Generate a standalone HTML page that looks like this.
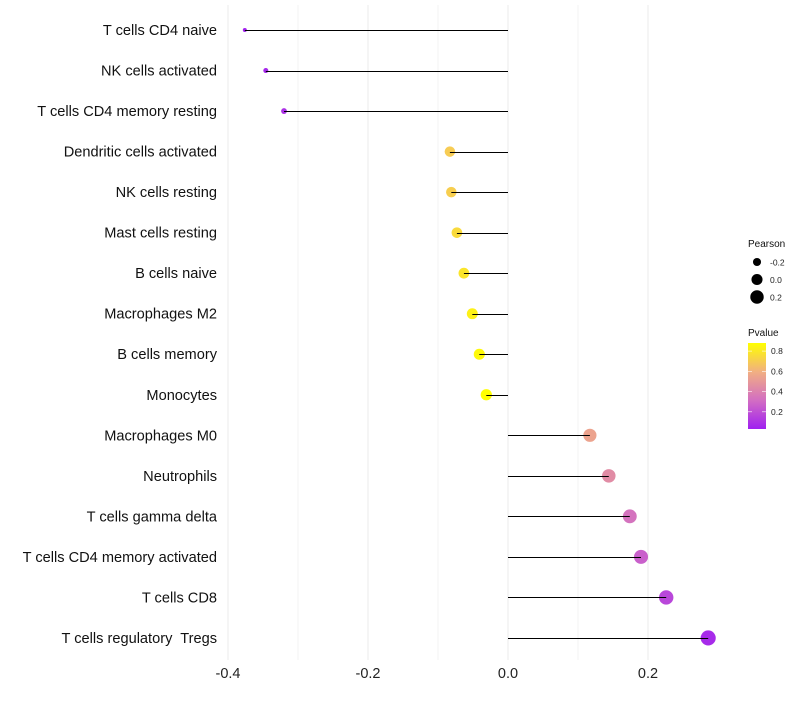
<!DOCTYPE html>
<html><head><meta charset="utf-8"><style>
body{margin:0;background:#fff;font-family:"Liberation Sans",sans-serif}
text{white-space:pre}
</style></head><body>
<svg id="chart" width="800" height="700" xmlns="http://www.w3.org/2000/svg"></svg>
<script>
const categories=["T cells CD4 naive","NK cells activated","T cells CD4 memory resting","Dendritic cells activated","NK cells resting","Mast cells resting","B cells naive","Macrophages M2","B cells memory","Monocytes","Macrophages M0","Neutrophils","T cells gamma delta","T cells CD4 memory activated","T cells CD8","T cells regulatory  Tregs"];
const pearson=[-0.376,-0.346,-0.32,-0.083,-0.081,-0.073,-0.063,-0.051,-0.041,-0.031,0.117,0.144,0.174,0.19,0.226,0.286];
const pvalue=[0.05,0.07,0.1,0.7,0.71,0.75,0.79,0.83,0.86,0.9,0.55,0.45,0.34,0.27,0.18,0.08];
const xTicks=[-0.4,-0.2,0.0,0.2];
const xTickLabels=["-0.4","-0.2","0.0","0.2"];
const minorTicks=[-0.3,-0.1,0.1];
const sizeLegend=[-0.2,0.0,0.2];
const colorLegend=[0.2,0.4,0.6,0.8];

const svg=document.getElementById('chart');
const NS="http://www.w3.org/2000/svg";
function mk(t,a,p){const e=document.createElementNS(NS,t);for(const k in a)e.setAttribute(k,a[k]);(p||svg).appendChild(e);return e;}
const x=v=>508+v*700;
const y=i=>30+i*40.53;
const r=v=>Math.sqrt(Math.max(1,4+(v+0.376)*80));
function lerp(a,b,t){return a.map((c,i)=>Math.round(c+(b[i]-c)*t));}
function col(p){const t=Math.max(0,Math.min(1,(p-0.04)/0.84));const s=[[160,32,240],[210,110,195],[242,175,130],[255,255,0]];const k=Math.min(2,Math.floor(t*3));const c=lerp(s[k],s[k+1],t*3-k);return `rgb(${c[0]},${c[1]},${c[2]})`;}

[...xTicks,...minorTicks].forEach(v=>{const g=mk('line',{x1:x(v),x2:x(v),y1:5,y2:660,stroke:'#ebebeb','stroke-width':xTicks.includes(v)?1:0.6});
});
xTicks.forEach((v,i)=>{const t=mk('text',{x:x(v),y:678,'text-anchor':'middle','font-size':14.5,fill:'#222'});t.textContent=xTickLabels[i];
});
categories.forEach((c,i)=>{
const t=mk('text',{x:217,y:y(i)+5,'text-anchor':'end','font-size':14.6,fill:'#111'});t.textContent=c;

const d=mk('circle',{cx:x(pearson[i]),cy:y(i),r:r(pearson[i]),fill:col(pvalue[i])});

const l=mk('line',{x1:x(0),x2:x(pearson[i]),y1:Math.round(y(i))+0.5,y2:Math.round(y(i))+0.5,stroke:'#000','stroke-width':1});

});
let t=mk('text',{x:748,y:247,'font-size':10,fill:'#111'});t.textContent='Pearson';

sizeLegend.forEach((v,i)=>{const cy=262+i*17.5;const c=mk('circle',{cx:757,cy:cy,r:r(v)*0.95,fill:'#000'});

const tt=mk('text',{x:770,y:cy+3.5,'font-size':8.5,fill:'#222'});tt.textContent=v.toFixed(1);
});
t=mk('text',{x:748,y:336,'font-size':10,fill:'#111'});t.textContent='Pvalue';

const defs=mk('defs',{});const lg=mk('linearGradient',{id:'pg',x1:0,y1:1,x2:0,y2:0},defs);
[0,0.33,0.66,1].forEach((o,i)=>mk('stop',{offset:o,'stop-color':col(0.04+o*0.84)},lg));
const bar=mk('rect',{x:748,y:343,width:18,height:86,fill:'url(#pg)'});

const cy=p=>428-(p-0.04)/0.84*85;
colorLegend.forEach(p=>{mk('line',{x1:748,x2:752,y1:cy(p),y2:cy(p),stroke:'#fff','stroke-width':0.6});mk('line',{x1:762,x2:766,y1:cy(p),y2:cy(p),stroke:'#fff','stroke-width':0.6});
const tt=mk('text',{x:771,y:cy(p)+3,'font-size':8.5,fill:'#222'});tt.textContent=p.toFixed(1);
});
</script>
</body></html>
